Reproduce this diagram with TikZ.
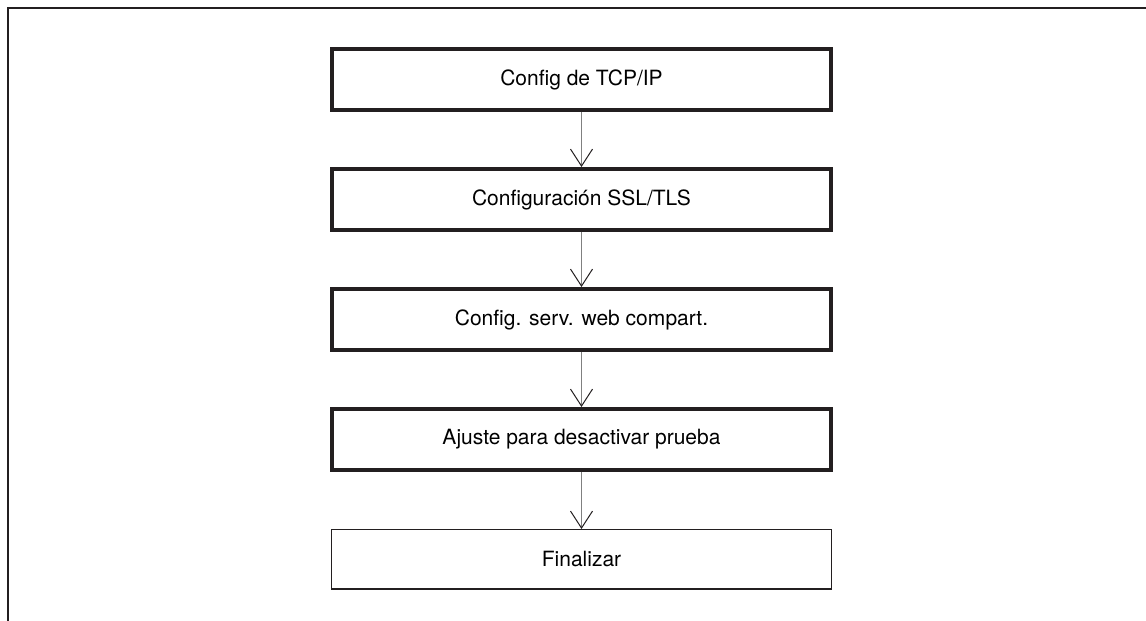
\documentclass[tikz,border=0pt]{standalone}
\usepackage{fontspec}
\setsansfont{TeX Gyre Heros}
\usetikzlibrary{positioning, arrows.meta}

\definecolor{inkdark}{HTML}{231F20}

\begin{document}
\begin{tikzpicture}[
    stepbox/.style={
        rectangle,
        draw=inkdark,
        line width=2pt,
        minimum width=249.5pt,
        minimum height=30.5pt,
        font=\sffamily\fontsize{10.5}{12}\selectfont
    },
    endbox/.style={
        stepbox,
        line width=0.75pt,
        minimum width=250pt,
        minimum height=29.75pt
    },
    flow/.style={
        draw=gray,
        line width=0.5pt,
        -{Straight Barb[length=8.5pt, width=11pt, color=inkdark]}
    },
    node distance=27.5pt
]

    \useasboundingbox (0,0) rectangle (573pt,310.5pt);

    % Frame
    \coordinate (frame_bl) at (4pt,0pt);
    \coordinate (frame_tl) at (4pt,306.3pt);
    \coordinate (frame_tr) at (573pt,306.3pt);
    \draw[line width=1pt, inkdark] (frame_bl) -- (frame_tl) -- (frame_tr);

    % Steps
    \node[stepbox] (tcpip) at (290.75pt,270.75pt) {Config de TCP/IP};
    \node[stepbox, below=of tcpip] (ssltls) {Configuración SSL/TLS};
    \node[stepbox, below=of ssltls] (webserv) {Config. serv. web compart.};
    \node[stepbox, below=of webserv] (prueba) {Ajuste para desactivar prueba};
    \node[endbox, below=28.5pt of prueba] (fin) {Finalizar};

    % Arrows
    \draw[flow] (tcpip) -- (ssltls);
    \draw[flow] (ssltls) -- (webserv);
    \draw[flow] (webserv) -- (prueba);
    \draw[flow] (prueba) -- (fin);

\end{tikzpicture}
\end{document}
